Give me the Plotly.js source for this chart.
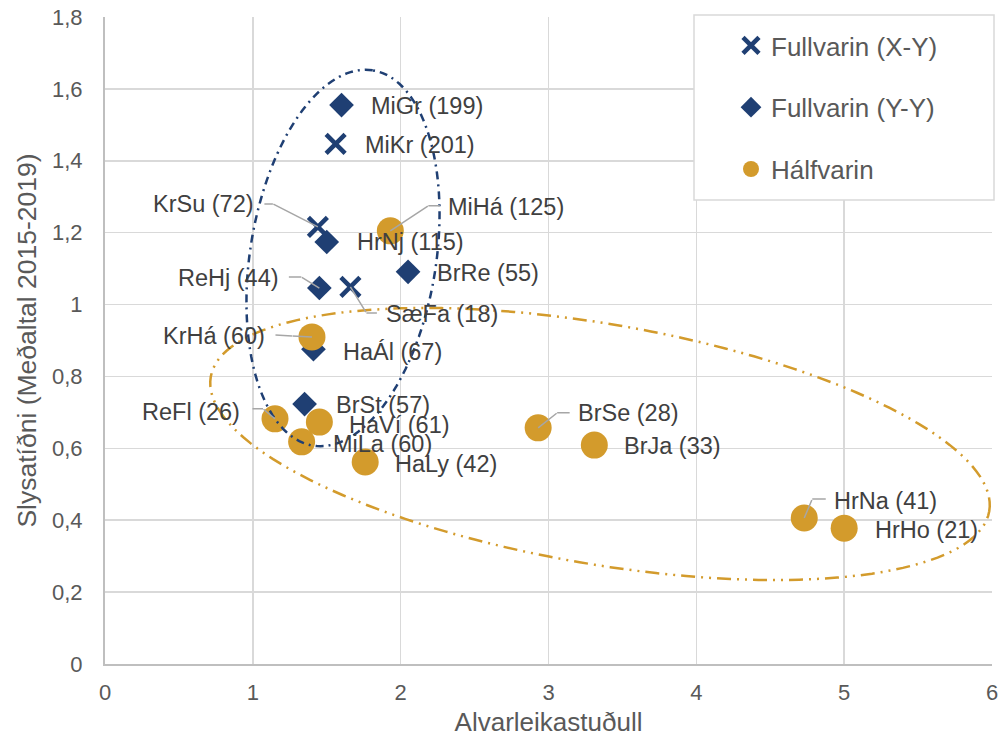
<!DOCTYPE html>
<html>
<head>
<meta charset="utf-8">
<script src="https://cdn.plot.ly/plotly-3.0.1.min.js"></script>
<style>html,body{margin:0;padding:0;background:#fff;}#chart{width:1002px;height:737px;}</style>
</head>
<body>
<div id="chart"></div>
<script>
// ---- data ----
const xyNames = ['MiKr (201)', 'KrSu (72)', 'SæFa (18)'];
const xyX = [1.56, 1.44, 1.66];
const xyY = [1.447, 1.216, 1.049];

const yyNames = ['MiGr (199)', 'HrNj (115)', 'BrRe (55)', 'ReHj (44)', 'HaÁl (67)', 'BrSt (57)'];
const yyX = [1.60, 1.50, 2.05, 1.45, 1.41, 1.35];
const yyY = [1.555, 1.174, 1.091, 1.046, 0.876, 0.723];

const halfNames = ['MiHá (125)', 'KrHá (60)', 'ReFl (26)', 'HaVí (61)', 'MiLa (60)', 'HaLy (42)', 'BrSe (28)', 'BrJa (33)', 'HrNa (41)', 'HrHo (21)'];
const halfX = [1.93, 1.40, 1.15, 1.45, 1.33, 1.76, 2.93, 3.31, 4.73, 5.00];
const halfY = [1.205, 0.910, 0.682, 0.673, 0.618, 0.562, 0.657, 0.609, 0.406, 0.378];

const seriesNames = ['Fullvarin (X-Y)', 'Fullvarin (Y-Y)', 'Hálfvarin'];

// ---- label placement (pixel offsets from the point; screen y down) ----
const labelPlace = {
  'MiGr (199)': {side: 'left', dx: 27, dy: 1},
  'MiKr (201)': {side: 'left', dx: 27, dy: 1},
  'HrNj (115)': {side: 'left', dx: 28, dy: 0},
  'BrRe (55)':  {side: 'left', dx: 27, dy: 1},
  'HaÁl (67)':  {side: 'left', dx: 28, dy: 3},
  'BrSt (57)':  {side: 'left', dx: 29, dy: 1},
  'HaVí (61)':  {side: 'left', dx: 28, dy: 3},
  'MiLa (60)':  {side: 'left', dx: 29, dy: 2},
  'HaLy (42)':  {side: 'left', dx: 28, dy: 2},
  'BrJa (33)':  {side: 'left', dx: 28, dy: 1},
  'HrHo (21)':  {side: 'left', dx: 29, dy: 2},
  'KrSu (72)':  {side: 'right', dx: -62, dy: -23, elbow: [-45, -23], hend: [-54, -23]},
  'MiHá (125)': {side: 'left', dx: 56, dy: -24, elbow: [38, -25], hend: [50, -25]},
  'ReHj (44)':  {side: 'right', dx: -38, dy: -10, elbow: [-18, -11], hend: [-31, -11]},
  'SæFa (18)':  {side: 'left', dx: 34, dy: 27, elbow: [16, 26], hend: [27, 26]},
  'KrHá (60)':  {side: 'right', dx: -45, dy: -1, elbow: [-20, -1], hend: [-37, -2]},
  'ReFl (26)':  {side: 'right', dx: -33, dy: -7, elbow: [-12, -10], hend: [-23, -10]},
  'BrSe (28)':  {side: 'left', dx: 38, dy: -15, elbow: [19, -15], hend: [32, -15]},
  'HrNa (41)':  {side: 'left', dx: 28, dy: -17, elbow: [8, -19], hend: [22, -19]}
};

// ---- styles ----
const NAVY = '#1f3f73';
const GOLD = '#d39b2c';
const FONT = '"Liberation Sans", Arial, sans-serif';
const M = {l: 105, r: 10, t: 17, b: 73};
const W = 1002, H = 737;
const XR = [0, 6], YR = [0, 1.8];
const sx = (W - M.l - M.r) / (XR[1] - XR[0]);
const sy = (H - M.t - M.b) / (YR[1] - YR[0]);

function ellipsePath(cx, cy, a, b, angDeg) {
  const ph = angDeg * Math.PI / 180;
  let d = '';
  const n = 160;
  for (let i = 0; i <= n; i++) {
    const t = 2 * Math.PI * i / n;
    const px = a * Math.cos(t) * Math.cos(ph) - b * Math.sin(t) * Math.sin(ph);
    const py = a * Math.cos(t) * Math.sin(ph) + b * Math.sin(t) * Math.cos(ph);
    d += (i === 0 ? 'M' : 'L') + (cx + px / sx).toFixed(4) + ',' + (cy + py / sy).toFixed(4);
  }
  return d + 'Z';
}

const traces = [
  {x: xyX, y: xyY, name: seriesNames[0], type: 'scatter', mode: 'markers', legendgroup: 'a',
   marker: {symbol: 'x-thin-open', size: 19, color: NAVY, line: {width: 4.5, color: NAVY}}},
  {x: yyX, y: yyY, name: seriesNames[1], type: 'scatter', mode: 'markers', legendgroup: 'b',
   marker: {symbol: 'diamond', size: 19, color: NAVY}},
  {x: halfX, y: halfY, name: seriesNames[2], type: 'scatter', mode: 'markers', legendgroup: 'c',
   marker: {symbol: 'circle', size: 27, color: GOLD}}
];

const annotations = [];
function addLabels(names, xs, ys) {
  names.forEach((nm, i) => {
    const p = labelPlace[nm];
    if (p.elbow) {
      annotations.push({x: xs[i], y: ys[i], xref: 'x', yref: 'y', text: ' ', font: {size: 1},
        showarrow: true, arrowhead: 0, arrowwidth: 1.5, arrowcolor: '#a6a6a6',
        ax: p.elbow[0], ay: p.elbow[1], borderpad: 0});
      annotations.push({x: xs[i], y: ys[i], xref: 'x', yref: 'y', text: ' ', font: {size: 1},
        xshift: p.elbow[0], yshift: -p.elbow[1],
        showarrow: true, arrowhead: 0, arrowwidth: 1.5, arrowcolor: '#a6a6a6',
        ax: p.hend[0] - p.elbow[0], ay: p.hend[1] - p.elbow[1], borderpad: 0});
    }
    annotations.push({x: xs[i], y: ys[i], xref: 'x', yref: 'y', text: nm, showarrow: false,
      xanchor: p.side, yanchor: 'middle', xshift: p.dx, yshift: -p.dy,
      font: {family: FONT, size: 23.5, color: '#404040'}});
  });
}
addLabels(xyNames, xyX, xyY);
addLabels(yyNames, yyX, yyY);
addLabels(halfNames, halfX, halfY);

const shapes = [
  {type: 'path', xref: 'x', yref: 'y', layer: 'above',
   path: ellipsePath((343 - M.l) / sx, (H - M.b - 258) / sy, 190, 93, 81),
   line: {color: NAVY, width: 2.5, dash: '8px,5px,2px,5px'}},
  {type: 'path', xref: 'x', yref: 'y', layer: 'above',
   path: ellipsePath((600 - M.l) / sx, (H - M.b - 444) / sy, 395, 120, -9.8),
   line: {color: GOLD, width: 2.5, dash: '14px,6px,2px,6px,2px,6px'}},
  {type: 'rect', xref: 'paper', yref: 'paper', layer: 'above',
   x0: (694 - M.l) / (W - M.l - M.r), x1: (994 - M.l) / (W - M.l - M.r),
   y0: (H - M.b - 200) / (H - M.t - M.b), y1: (H - M.b - 15) / (H - M.t - M.b),
   fillcolor: '#ffffff', line: {color: '#d9d9d9', width: 1.5}}
];

const layout = {
  width: W, height: H,
  margin: M,
  paper_bgcolor: '#fff', plot_bgcolor: '#fff',
  separators: ',.',
  font: {family: FONT, color: '#595959'},
  showlegend: true,
  legend: {x: (731 - M.l) / (W - M.l - M.r), y: (H - M.b - 22) / (H - M.t - M.b),
           xanchor: 'left', yanchor: 'top', bgcolor: 'rgba(0,0,0,0)', borderwidth: 0,
           font: {family: FONT, size: 26, color: '#595959'},
           traceorder: 'grouped', tracegroupgap: 25},
  xaxis: {range: XR, dtick: 1, showgrid: true, gridcolor: '#d9d9d9', gridwidth: 1.5,
          zeroline: false, showline: true, linecolor: '#bfbfbf', linewidth: 2,
          ticks: '', ticklabelstandoff: 8, tickfont: {family: FONT, size: 22, color: '#595959'},
          title: {text: 'Alvarleikastuðull', font: {family: FONT, size: 26, color: '#595959'}, standoff: 8}},
  yaxis: {range: YR, dtick: 0.2, showgrid: true, gridcolor: '#d9d9d9', gridwidth: 1.5,
          zeroline: false, showline: true, linecolor: '#bfbfbf', linewidth: 2,
          ticks: '', ticklabelstandoff: 16, tickfont: {family: FONT, size: 22, color: '#595959'},
          title: {text: 'Slysatíðni (Meðaltal 2015-2019)', font: {family: FONT, size: 26.5, color: '#595959'}, standoff: 8}},
  shapes: shapes,
  annotations: annotations
};

Plotly.newPlot('chart', traces, layout, {displayModeBar: false, staticPlot: true});
</script>
</body>
</html>
